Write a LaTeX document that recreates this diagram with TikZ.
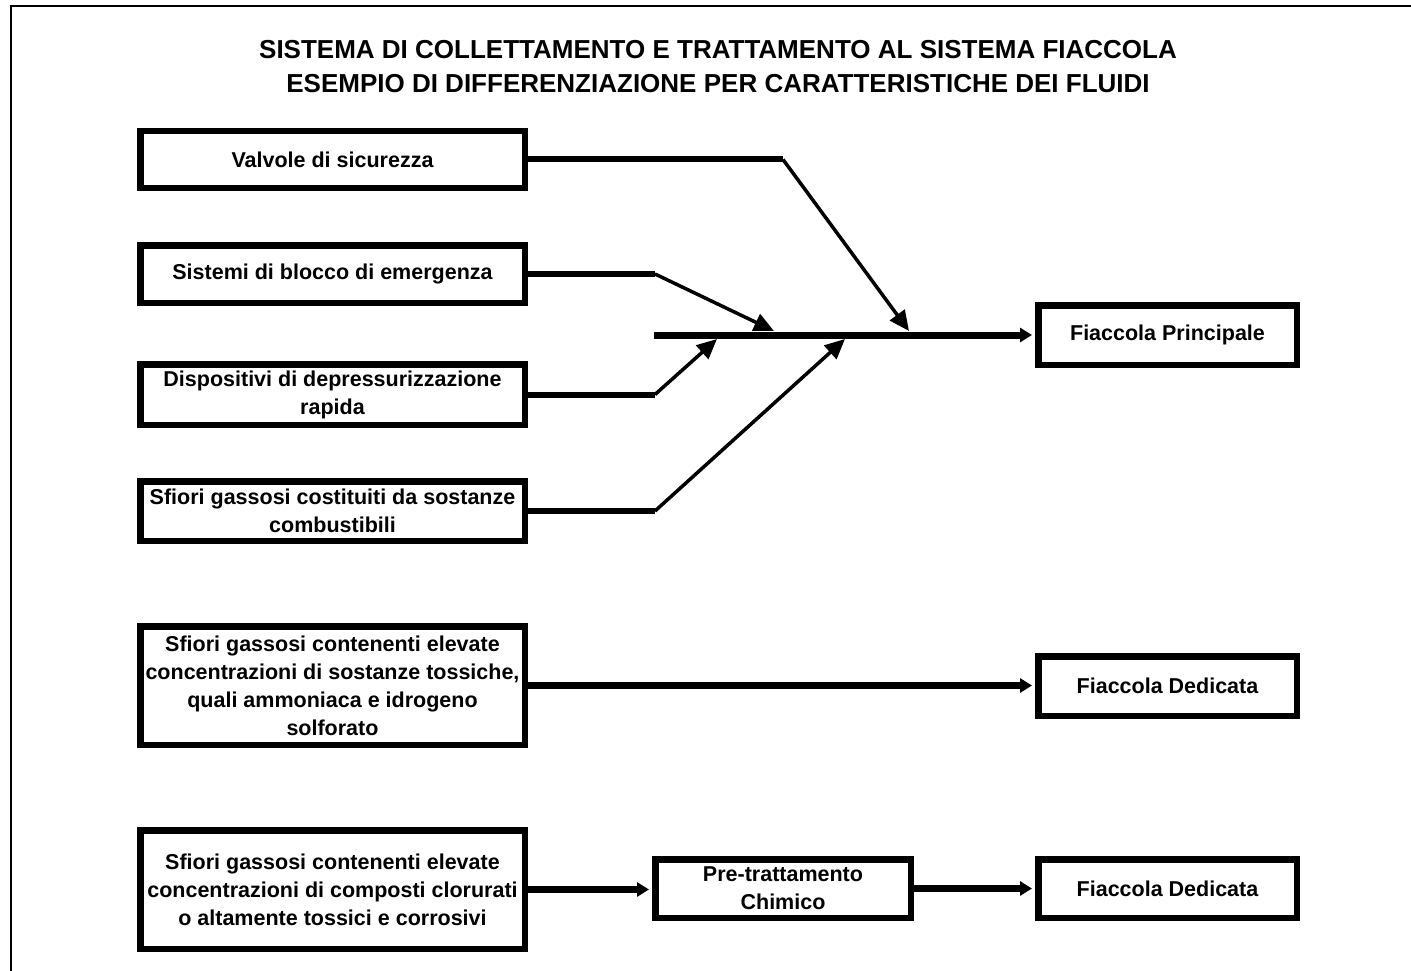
\documentclass[tikz,border=0pt]{standalone}
\usepackage{fontspec}
\setmainfont{Liberation Sans}
\usetikzlibrary{arrows.meta}
\begin{document}
\begin{tikzpicture}[x=1pt,y=-1pt,
  box/.style={draw,line width=6.5pt,minimum width=384.5pt,align=center,
    font=\fontsize{21.5}{28}\selectfont\bfseries,inner sep=0pt},
  rbox/.style={box,minimum width=258.5pt},
  stub/.style={line width=6pt},
  diag/.style={line width=3.5pt,-{Triangle[length=20pt,width=18pt]}},
  flow/.style={line width=6.5pt,-{Triangle[length=12pt,width=14pt]},shorten >=3pt},
  titlefont/.style={font=\fontsize{26}{34}\selectfont\bfseries,align=center,inner sep=0pt}
]
\useasboundingbox (0,0) rectangle (1411,971);
\draw[line width=2.5pt] (11,6) rectangle (1425,990);

\node[titlefont] (title) at (718,67) {SISTEMA DI COLLETTAMENTO E TRATTAMENTO AL SISTEMA FIACCOLA\\ESEMPIO DI DIFFERENZIAZIONE PER CARATTERISTICHE DEI FLUIDI};

\node[box,minimum height=56.5pt] (v1) at (332.5,159.5) {Valvole di sicurezza};
\node[box,minimum height=57.5pt] (v2) at (332.5,274) {Sistemi di blocco di emergenza};
\node[box,minimum height=60.5pt] (v3) at (332.5,394.5) {Dispositivi di depressurizzazione\\rapida};
\node[box,minimum height=59.5pt] (v4) at (332.5,511) {Sfiori gassosi costituiti da sostanze\\combustibili};
\node[box,minimum height=118.5pt] (v5) at (332.5,685.5) {Sfiori gassosi contenenti elevate\\concentrazioni di sostanze tossiche,\\quali ammoniaca e idrogeno\\solforato};
\node[box,minimum height=118.5pt] (v6) at (332.5,889.5) {Sfiori gassosi contenenti elevate\\concentrazioni di composti clorurati\\o altamente tossici e corrosivi};

\node[rbox,minimum height=59.5pt] (fp) at (1167.5,335) {Fiaccola Principale};
\node[rbox,minimum height=59.5pt] (fd1) at (1167.5,686) {Fiaccola Dedicata};
\node[rbox,minimum width=255.5pt,minimum height=58.5pt] (pre) at (783,888.5) {Pre-trattamento\\Chimico};
\node[rbox,minimum height=58.5pt] (fd2) at (1167.5,888.5) {Fiaccola Dedicata};

\coordinate (m0) at (654,335);
\coordinate (k1) at (783,159.5);
\coordinate (k2) at (655,274);
\coordinate (k3) at (655,394.5);
\coordinate (k4) at (655,511);
\coordinate (t1) at (909,331);
\coordinate (t2) at (774,331);
\coordinate (t3) at (717,339);
\coordinate (t4) at (845,339);

\draw[flow,line width=7pt] (m0) -- (fp.west);
\draw[stub] (v1.east) -- (k1);
\draw[stub] (v2.east) -- (k2);
\draw[stub] (v3.east) -- (k3);
\draw[stub] (v4.east) -- (k4);
\draw[diag] (k1) -- (t1);
\draw[diag] (k2) -- (t2);
\draw[diag] (k3) -- (t3);
\draw[diag] (k4) -- (t4);

\draw[flow] (v5.east) -- (v5.east -| fd1.west);
\draw[flow] (v6.east) -- (v6.east -| pre.west);
\draw[flow] (pre.east) -- (fd2.west);
\end{tikzpicture}
\end{document}
